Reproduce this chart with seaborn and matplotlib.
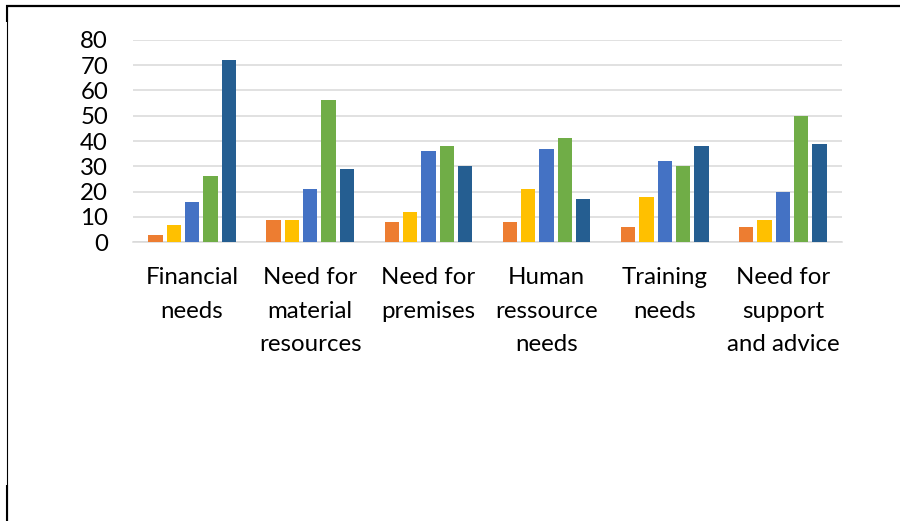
import matplotlib
matplotlib.use("Agg")
import matplotlib.pyplot as plt
from matplotlib.lines import Line2D
import seaborn as sns
import pandas as pd

# Categories of need (x axis) and the five response series
categories = [
    "Financial\nneeds",
    "Need for\nmaterial\nresources",
    "Need for\npremises",
    "Human\nressource\nneeds",
    "Training\nneeds",
    "Need for\nsupport\nand advice",
]
series = ["Very low", "Low", "Medium", "High", "Very high"]

very_low = [3, 9, 8, 8, 6, 6]
low = [7, 9, 12, 21, 18, 9]
medium = [16, 21, 36, 37, 32, 20]
high = [26, 56, 38, 41, 30, 50]
very_high = [72, 29, 30, 17, 38, 39]

y_ticks = [0, 10, 20, 30, 40, 50, 60, 70, 80]

colors = ["#ED7D31", "#FFC000", "#4472C4", "#70AD47", "#255E91"]

rows = []
for name, vals in zip(series, [very_low, low, medium, high, very_high]):
    for cat, v in zip(categories, vals):
        rows.append({"category": cat, "series": name, "value": v})
df = pd.DataFrame(rows)

sns.set_theme(style="white")
plt.rcParams["font.family"] = ["Lato", "DejaVu Sans"]

W, H = 900, 521
fig = plt.figure(figsize=(W / 100, H / 100), dpi=100)
fig.patch.set_facecolor("white")

left, right, top, bottom = 133, 842, 39.7, 242.3
ax = fig.add_axes([left / W, 1 - bottom / H, (right - left) / W, (bottom - top) / H])

sns.barplot(
    data=df, x="category", y="value", hue="series",
    order=categories, hue_order=series, palette=colors,
    width=0.775, gap=0.22, legend=False, ax=ax, zorder=3,
    edgecolor="none", saturation=1,
)

ax.set_ylim(0, 80)
ax.set_yticks(y_ticks)
ax.set_yticklabels([str(t) for t in y_ticks])
ax.set_xlim(-0.5, len(categories) - 0.5)
ax.yaxis.grid(True, color="#D9D9D9", linewidth=1.1, zorder=0)
ax.set_axisbelow(True)
for s in ["left", "right", "top"]:
    ax.spines[s].set_visible(False)
ax.spines["bottom"].set_color("#D9D9D9")
ax.spines["bottom"].set_linewidth(1.1)
ax.set_xlabel("")
ax.set_ylabel("")
ax.tick_params(axis="y", length=0, pad=18, labelsize=17.3, labelcolor="black")
ax.tick_params(axis="x", length=0, pad=18, labelsize=17.3, labelcolor="black")
for lbl in ax.get_xticklabels():
    lbl.set_linespacing(1.72)
    lbl.set_multialignment("center")

# Frame lines around the chart area
def px_line(x0, y0, x1, y1, lw):
    fig.add_artist(Line2D([x0 / W, x1 / W], [1 - y0 / H, 1 - y1 / H],
                          color="black", linewidth=lw, solid_capstyle="butt",
                          transform=fig.transFigure))

px_line(5.5, 6, W, 6, 1.6)
px_line(6.5, 5, 6.5, H, 0.8)
px_line(6.8, 5, 6.8, 22, 1.5)
px_line(6.8, 485, 6.8, H, 1.5)

fig.savefig("out.png", dpi=100, facecolor="white")
